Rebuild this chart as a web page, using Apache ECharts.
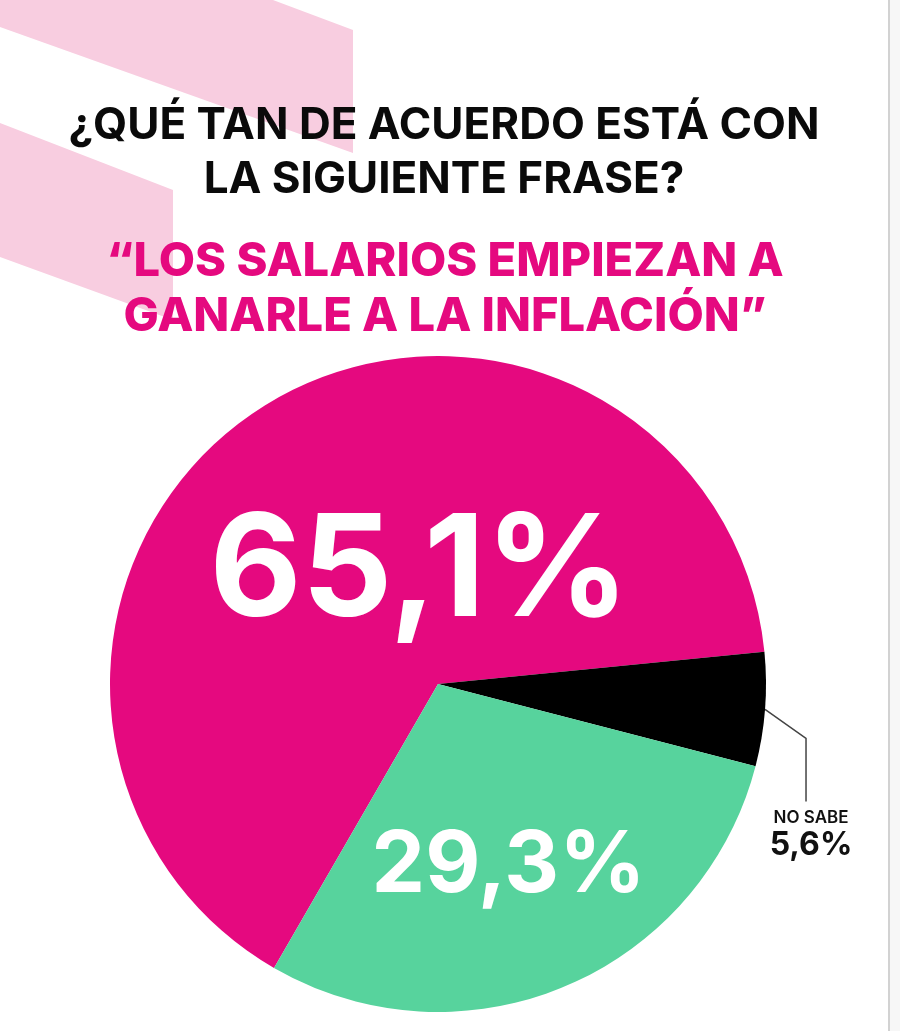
<!DOCTYPE html>
<html>
<head>
<meta charset="utf-8">
<script src="https://cdn.jsdelivr.net/npm/echarts@6/dist/echarts.min.js"></script>
<style>
  html, body { margin: 0; padding: 0; background: #fff; }
  #main { width: 900px; height: 1031px; }
</style>
</head>
<body>
<div id="main"></div>
<script>
// datos de la encuesta
var categorias = ['De acuerdo', 'No sabe', 'En desacuerdo'];
var valores = [65.1, 5.6, 29.3];
var etiquetas = ['65,1%', '5,6%', '29,3%'];
var colores = ['#E5097F', '#000000', '#57D39D'];

var chart = echarts.init(document.getElementById('main'));

var datos = categorias.map(function (c, i) {
  return { name: c, value: valores[i], itemStyle: { color: colores[i] } };
});
// etiquetas internas grandes
datos[0].label = { position: 'inside', fontSize: 142, offset: [72, 30] };
datos[2].label = { position: 'inside', fontSize: 85, offset: [6, 28] };
datos[1].label = {
  position: 'outside',
  formatter: function (p) { return '{a|NO SABE}\n{b|' + etiquetas[p.dataIndex] + '}'; },
  rich: {
    a: { fontSize: 17, fontWeight: 600, color: '#111', align: 'center', lineHeight: 24, fontFamily: 'Inter' },
    b: { fontSize: 32, fontWeight: 700, color: '#111', align: 'center', lineHeight: 32, fontFamily: 'Inter' }
  }
};
datos[1].labelLine = { show: true, lineStyle: { color: '#444', width: 1.5 } };

chart.setOption({
  backgroundColor: '#fff',
  animation: false,
  title: [{
    text: '¿QUÉ TAN DE ACUERDO ESTÁ CON\nLA SIGUIENTE FRASE?',
    left: 439, top: 94, textAlign: 'center',
    textStyle: { fontFamily: 'Inter', fontWeight: 700, fontSize: 44, lineHeight: 54, color: '#0a0a0a' }
  }, {
    text: '“LOS SALARIOS EMPIEZAN A\nGANARLE A LA INFLACIÓN”',
    left: 440, top: 229, textAlign: 'center',
    textStyle: { fontFamily: 'Inter', fontWeight: 800, fontSize: 47, lineHeight: 55, color: '#E5097F' }
  }],
  graphic: [
    { type: 'polygon', z: -10, shape: { points: [[0, 0], [273, 0], [353, 30], [353, 153], [0, 27]] }, style: { fill: '#F8CDE0' } },
    { type: 'polygon', z: -10, shape: { points: [[0, 123], [173, 190], [173, 320], [0, 257]] }, style: { fill: '#F8CDE0' } },
    { type: 'rect', z: -10, shape: { x: 890, y: 0, width: 10, height: 1031 }, style: { fill: '#F7F7F7' } },
    { type: 'rect', z: -10, shape: { x: 888, y: 0, width: 2, height: 1031 }, style: { fill: '#D2D2D2' } }
  ],
  series: [{
    type: 'pie',
    center: [438, 684],
    radius: [0, 328],
    startAngle: 240,
    clockwise: true,
    avoidLabelOverlap: false,
    silent: true,
    label: {
      show: true,
      color: '#fff',
      fontFamily: 'Inter',
      fontWeight: 700,
      formatter: function (p) { return etiquetas[p.dataIndex]; }
    },
    labelLine: { show: false },
    labelLayout: function (params) {
      if (params.dataIndex !== 1 || !params.labelLinePoints) return {};
      var s = params.labelLinePoints[0];
      return {
        x: s[0] + 46,
        y: s[1] + 96,
        align: 'center',
        verticalAlign: 'top',
        labelLinePoints: [s, [s[0] + 41, s[1] + 29], [s[0] + 41, s[1] + 92]]
      };
    },
    data: datos
  }]
});
</script>
</body>
</html>
